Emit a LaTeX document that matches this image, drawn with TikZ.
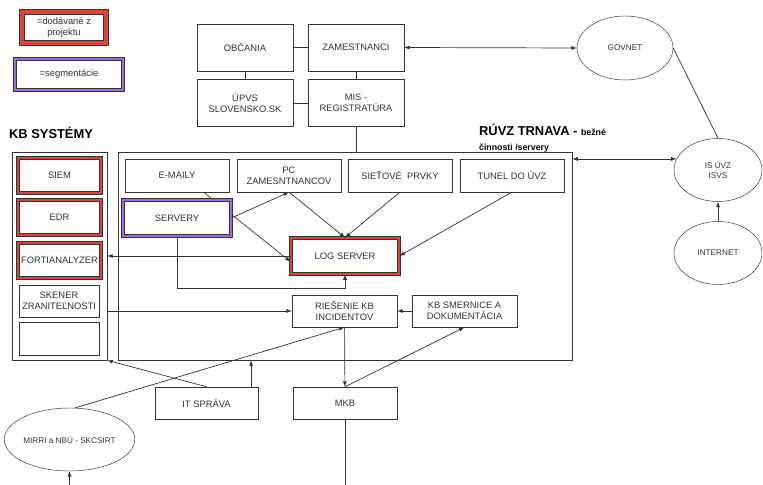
\documentclass[tikz,border=0pt]{standalone}
\usepackage{fontspec}
\setmainfont{Liberation Sans}
\usepackage{xcolor}
\usetikzlibrary{shapes,arrows,positioning,calc}
\definecolor{kbred}{RGB}{221,68,57}
\definecolor{segpurple}{RGB}{158,104,240}
\definecolor{linegray}{RGB}{51,51,51}
\pgfdeclarelayer{bg}
\pgfsetlayers{bg,main}

\begin{document}
\begin{tikzpicture}[x=0.03cm, y=-0.03cm,
    unit/.style={rectangle, draw=linegray, fill=white, text=linegray, align=center, inner sep=1pt,
        minimum width=3.12cm, minimum height=0.98cm, font=\fontsize{8}{9.5}\selectfont},
    topunit/.style={unit, minimum width=2.88cm, minimum height=1.41cm},
    kbunit/.style={unit, minimum width=2.4cm, minimum height=0.97cm},
    redunit/.style={unit, double=kbred, double distance=2.4pt, line width=0.7pt},
    segunit/.style={unit, double=segpurple, double distance=2.4pt, line width=0.7pt},
    cloud/.style={ellipse, draw=linegray, fill=white, text=linegray, align=center, inner sep=0pt,
        minimum width=2.64cm, minimum height=1.89cm, font=\fontsize{7}{8.5}\selectfont},
    frame/.style={rectangle, draw=linegray, semithick, minimum height=6.24cm},
    heading/.style={anchor=west, text=black, font=\bfseries\fontsize{11}{13}\selectfont},
    link/.style={draw=linegray, semithick},
    arrow/.style={link, ->, >=latex},
    dblarrow/.style={link, <->, >=latex}
]
\useasboundingbox (0,0) rectangle (763,485);

% legenda
\node[redunit, double distance=3pt, minimum width=2.52cm, minimum height=0.93cm] (legred) at (64,27.5) {=dodávané z\\projektu};
\node[segunit, minimum width=3.24cm, minimum height=0.93cm] (legseg) at (69,74.5) {=segmentácie};

% hore
\node[topunit] (obc) at (245,47.5) {OBČANIA};
\node[topunit] (zam) at (356,47.5) {ZAMESTNANCI};
\node[topunit] (upvs) at (245,103) {ÚPVS\\SLOVENSKO.SK};
\node[topunit] (mis) at (356,103) {MIS -\\REGISTRATÚRA};

% vonkajsie siete
\node[cloud, minimum width=2.88cm, minimum height=1.92cm] (govnet) at (625,48) {GOVNET};
\node[cloud] (isuvz) at (718,170) {IS ÚVZ\\ISVS};
\node[cloud] (internet) at (718,253) {INTERNET};
\node[cloud, minimum width=2.85cm] (mirri) at (69.5,439.5) {MIRRI a NBÚ - SKCSIRT};

% ramce
\node[heading] (kbtitle) at (5,133) {KB SYSTÉMY};
\node[heading] (ruvztitle) at (475,130) {RÚVZ TRNAVA - {\fontsize{7.5}{9}\selectfont bežné}};
\node[heading, font=\bfseries\fontsize{7.5}{9}\selectfont] (ruvzsub) at (475,148) {činnosti /servery};
\node[frame, minimum width=13.62cm] (ruvz) at (345,256) {};
\node[frame, minimum width=2.85cm] (kb) at (59.5,256) {};

% KB systemy
\node[redunit, minimum width=2.49cm, minimum height=1.05cm] (siem) at (59.5,175.5) {SIEM};
\node[redunit, minimum width=2.49cm, minimum height=1.05cm] (edr) at (59.5,217.5) {EDR};
\node[redunit, minimum width=2.49cm, minimum height=1.05cm, inner sep=0pt] (forti) at (59.5,260.5) {FORTIANALYZER};
\node[kbunit] (skener) at (59,301) {SKENER\\ZRANITEĽNOSTI};
\node[kbunit, minimum height=0.99cm] (empty) at (59,338.5) {};

% RUVZ
\node[unit] (emails) at (177,175.5) {E-MAILY};
\node[unit] (pc) at (289,175.5) {PC\\ZAMESNTNANCOV};
\node[unit] (siet) at (400,175.5) {SIEŤOVÉ\ \ PRVKY};
\node[unit] (tunel) at (512,175.5) {TUNEL DO ÚVZ};
\node[segunit, minimum width=3.24cm, minimum height=1.08cm] (servery) at (177,218) {SERVERY};
\node[redunit, minimum width=3.24cm, minimum height=1.08cm] (log) at (345,256) {LOG SERVER};
\node[unit, minimum width=3.15cm, minimum height=0.96cm] (ries) at (344.5,311) {RIEŠENIE KB\\INCIDENTOV};
\node[unit, minimum width=3.15cm, minimum height=0.96cm] (kbsm) at (464.5,311) {KB SMERNICE A\\DOKUMENTÁCIA};

% dole
\node[unit, minimum width=3.09cm, minimum height=0.96cm] (it) at (206.5,403) {IT SPRÁVA};
\node[unit, minimum height=0.96cm] (mkb) at (345,403) {MKB};
\coordinate (mkbend) at (345,485);
\coordinate (mirristart) at (69.5,485);

% spojenia
\draw[link] (obc) -- (zam);
\draw[link] (obc) -- (upvs);
\draw[link] (zam) -- (mis);
\draw[link] (upvs) -- (mis);
\draw[link] (mis.south) -- (mis.south |- ruvz.north);
\draw[dblarrow] (zam.east) -- (govnet.west);
\draw[link] (govnet.east) -- (isuvz.north);
\draw[arrow] (internet) -- (isuvz);
\draw[dblarrow] (ruvz.east |- isuvz.165) -- (isuvz.165);

\begin{pgfonlayer}{bg}
\draw[arrow] (emails.-32) -- (log.186);
\end{pgfonlayer}
\draw[arrow] (servery.east) -- (pc.south);
\draw[arrow] (pc.south) -- (log.north);
\draw[arrow] (siet.south) -- (log.north);
\draw[arrow] (tunel.south) -- (log.east);
\draw[arrow] (servery.south) -- ++(0,52) -| (log.south);
\draw[arrow] (log.west) -- (kb.east);
\draw[arrow] (kb.east |- ries.west) -- (ries.west);
\draw[arrow] (kbsm) -- (ries);
\draw[arrow] (ries) -- (mkb);
\draw[arrow] (mirri.80) -- (ries.south);
\draw[arrow] (mkb.north) -- (kbsm.south);
\draw[arrow] (it.north) -- (kb.south east);
\draw[arrow] (it.20) -- (it.20 |- ruvz.south);
\draw[link] (mkb) -- (mkbend);
\draw[arrow] (mirristart) -- (mirri);

\end{tikzpicture}
\end{document}
